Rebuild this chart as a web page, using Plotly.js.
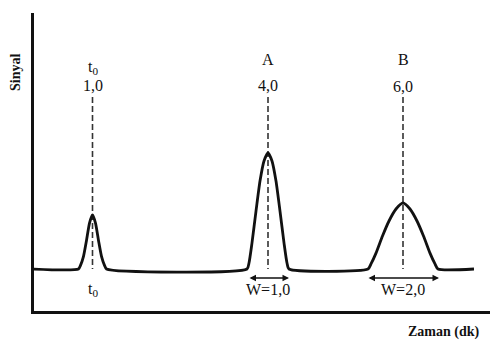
<!DOCTYPE html>
<html>
<head>
<meta charset="utf-8">
<script src="https://cdn.plot.ly/plotly-3.0.1.min.js"></script>
<style>html,body{margin:0;padding:0;background:#fff;}#chart{width:491px;height:361px;}</style>
</head>
<body>
<div id="chart"></div>
<script>
// Signal trace (time position, signal height)
var signalX = [0.02, 0.93, 0.97, 1.03, 1.09, 1.15, 1.21, 1.27, 1.33, 1.39, 1.45, 1.49,
               4.30, 4.34, 4.40, 4.48, 4.56, 4.64, 4.72, 4.80, 4.88, 4.96, 5.04, 5.10, 5.14,
               6.72, 6.78, 6.88, 7.01, 7.14, 7.28, 7.42, 7.56, 7.70, 7.83, 7.96, 8.06, 8.12, 8.84];
var signalY = [0, 0, 0.12, 0.42, 0.95, 1.53, 1.8, 1.53, 0.95, 0.42, 0.12, 0,
               0, 0.2, 0.87, 1.93, 2.93, 3.6, 3.87, 3.6, 2.93, 1.93, 0.87, 0.2, 0,
               0, 0.17, 0.53, 1.1, 1.6, 2.0, 2.2, 2.0, 1.6, 1.1, 0.53, 0.17, 0, 0];

// Peaks
var peakNames = ["t<sub>0</sub>", "A", "B"];
var peakPos = [1.21, 4.72, 7.42];
var retentionLabels = ["1,0", "4,0", "6,0"];
var bottomLabels = ["t<sub>0</sub>", "W=1,0", "W=2,0"];
var widthStart = [null, 4.32, 6.70];
var widthEnd = [null, 5.14, 8.14];

var dashTop = 5.73;
var serif = "Liberation Serif, Times New Roman, serif";

var traces = [];
// dashed retention lines
for (var i = 0; i < peakPos.length; i++) {
  traces.push({
    x: [peakPos[i], peakPos[i]], y: [dashTop, 0],
    mode: "lines", type: "scatter", hoverinfo: "skip",
    line: {color: "#333", width: 1.6, dash: "6px,3px"}
  });
}
traces.push({
  x: signalX, y: signalY, mode: "lines", type: "scatter",
  line: {color: "#111", width: 2.8, shape: "spline", smoothing: 0.6}
});

var W = 491, H = 361, mL = 34, mR = 1, mT = 13, mB = 50;
var pw = W - mL - mR, ph = H - mT - mB;

var ann = [];
var nameY = [6.73, 6.97, 6.97];
var retY = [6.13, 6.13, 6.07];
for (var j = 0; j < peakPos.length; j++) {
  ann.push({x: peakPos[j], y: nameY[j], xref: "x", yref: "y", text: peakNames[j], showarrow: false,
            font: {family: serif, size: 16, color: "#111"}, xanchor: "center", yanchor: "middle"});
  ann.push({x: peakPos[j], y: retY[j], xref: "x", yref: "y", text: retentionLabels[j], showarrow: false,
            font: {family: serif, size: 16, color: "#111"}, xanchor: "center", yanchor: "middle"});
  ann.push({x: peakPos[j], y: -0.67, xref: "x", yref: "y", text: bottomLabels[j], showarrow: false,
            font: {family: serif, size: 16, color: "#111"}, xanchor: "center", yanchor: "middle"});
  if (widthStart[j] !== null) {
    ann.push({x: widthEnd[j], y: -0.3, ax: widthStart[j], ay: -0.3, xref: "x", yref: "y",
              axref: "x", ayref: "y", text: "", showarrow: true, arrowside: "end+start",
              arrowhead: 2, arrowsize: 1, arrowwidth: 1.3, arrowcolor: "#111", standoff: 0, startstandoff: 0});
  }
}
ann.push({x: (16 - mL) / pw, y: 1 - (73 - mT) / ph, xref: "paper", yref: "paper",
          xanchor: "center", yanchor: "middle", text: "<b>Sinyal</b>", showarrow: false, textangle: -90,
          font: {family: serif, size: 14, color: "#111"}});
ann.push({x: (444 - mL) / pw, y: 1 - (332 - mT) / ph, xref: "paper", yref: "paper",
          xanchor: "center", yanchor: "middle", text: "<b>Zaman (dk)</b>", showarrow: false,
          font: {family: serif, size: 14, color: "#111"}});

var layout = {
  width: W, height: H,
  margin: {l: mL, r: mR, t: mT, b: mB},
  paper_bgcolor: "#fff", plot_bgcolor: "#fff",
  showlegend: false,
  xaxis: {range: [0.04, 9.16], showline: true, linewidth: 3, linecolor: "#111",
          showgrid: false, zeroline: false, showticklabels: false, ticks: ""},
  yaxis: {range: [-1.4, 8.533], showline: true, linewidth: 3, linecolor: "#111",
          showgrid: false, zeroline: false, showticklabels: false, ticks: ""},
  annotations: ann
};
Plotly.newPlot("chart", traces, layout, {staticPlot: true, displayModeBar: false});
</script>
</body>
</html>
